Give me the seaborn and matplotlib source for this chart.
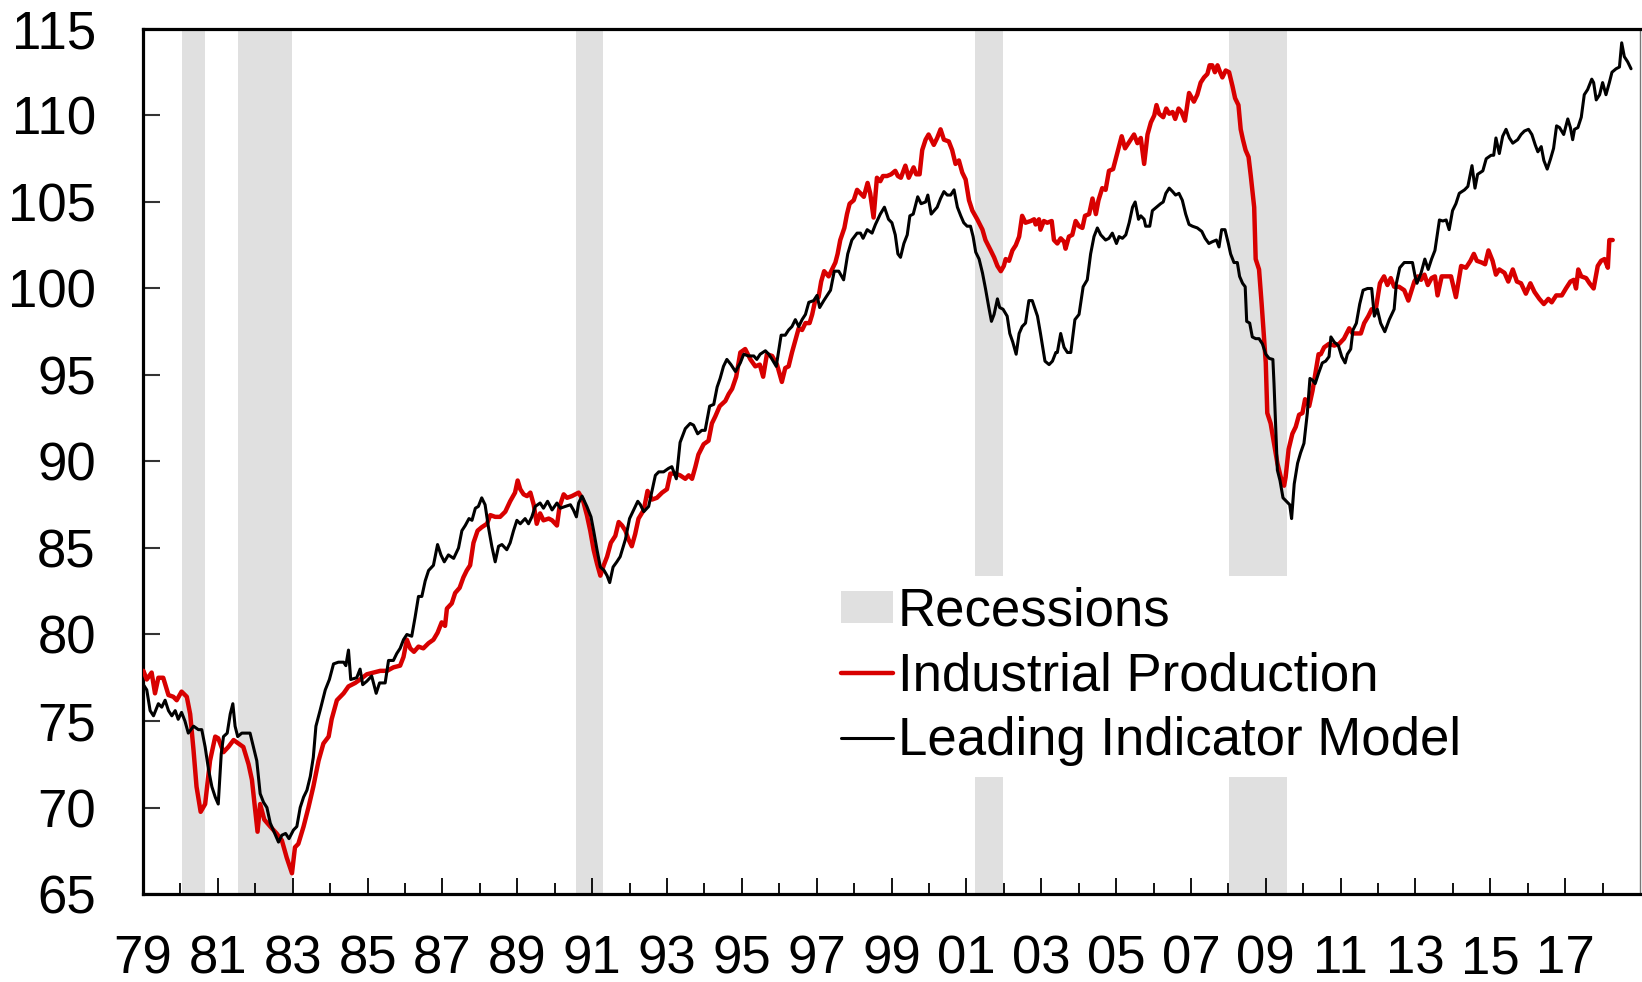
import matplotlib
matplotlib.use("Agg")
import matplotlib.pyplot as plt
from matplotlib.patches import Patch
from matplotlib.lines import Line2D
from matplotlib.ticker import FixedLocator, FixedFormatter
import seaborn as sns
import pandas as pd

# ---------------- data ----------------
ip_t = [1979.01, 1979.10, 1979.23, 1979.32, 1979.41, 1979.54, 1979.68, 1979.81, 1979.90, 1980.03,
        1980.17, 1980.26, 1980.35, 1980.43, 1980.54, 1980.66, 1980.79, 1980.93, 1981.01, 1981.15,
        1981.28, 1981.42, 1981.55, 1981.68, 1981.82, 1981.91, 1981.99, 1982.06, 1982.13, 1982.24,
        1982.40, 1982.57, 1982.71, 1982.84, 1982.98, 1983.06, 1983.15, 1983.29, 1983.42, 1983.55,
        1983.69, 1983.82, 1983.96, 1984.04, 1984.18, 1984.36, 1984.49, 1984.67, 1984.80, 1984.98,
        1985.16, 1985.34, 1985.52, 1985.69, 1985.87, 1985.96, 1986.05, 1986.14, 1986.24, 1986.36,
        1986.49, 1986.63, 1986.76, 1986.87, 1986.98, 1987.07, 1987.12, 1987.25, 1987.34, 1987.46,
        1987.56, 1987.65, 1987.74, 1987.83, 1987.94, 1988.05, 1988.19, 1988.28, 1988.41, 1988.54,
        1988.68, 1988.81, 1988.94, 1989.01, 1989.08, 1989.17, 1989.26, 1989.35, 1989.44, 1989.52,
        1989.61, 1989.70, 1989.84, 1989.93, 1990.06, 1990.13, 1990.24, 1990.33, 1990.46, 1990.55,
        1990.64, 1990.75, 1990.86, 1990.95, 1991.04, 1991.13, 1991.22, 1991.31, 1991.40, 1991.50,
        1991.62, 1991.71, 1991.80, 1991.89, 1991.97, 1992.06, 1992.15, 1992.24, 1992.38, 1992.48,
        1992.60, 1992.73, 1992.87, 1993.00, 1993.09, 1993.22, 1993.35, 1993.49, 1993.58, 1993.67,
        1993.76, 1993.84, 1993.98, 1994.11, 1994.20, 1994.29, 1994.41, 1994.56, 1994.65, 1994.74,
        1994.85, 1994.96, 1995.09, 1995.23, 1995.36, 1995.48, 1995.57, 1995.67, 1995.81, 1995.94,
        1996.07, 1996.16, 1996.25, 1996.34, 1996.43, 1996.52, 1996.61, 1996.70, 1996.81, 1996.88,
        1996.96, 1997.05, 1997.12, 1997.20, 1997.32, 1997.41, 1997.50, 1997.56, 1997.63, 1997.74,
        1997.81, 1997.88, 1997.99, 1998.08, 1998.17, 1998.26, 1998.36, 1998.43, 1998.52, 1998.61,
        1998.70, 1998.77, 1998.88, 1998.99, 1999.10, 1999.17, 1999.25, 1999.37, 1999.46, 1999.59,
        1999.66, 1999.75, 1999.82, 1999.91, 1999.99, 2000.13, 2000.22, 2000.31, 2000.40, 2000.53,
        2000.62, 2000.71, 2000.80, 2000.89, 2000.98, 2001.07, 2001.16, 2001.29, 2001.43, 2001.51,
        2001.65, 2001.74, 2001.83, 2001.92, 2002.00, 2002.05, 2002.14, 2002.23, 2002.32, 2002.41,
        2002.49, 2002.58, 2002.72, 2002.81, 2002.85, 2002.94, 2002.98, 2003.07, 2003.16, 2003.28,
        2003.34, 2003.43, 2003.52, 2003.61, 2003.65, 2003.74, 2003.83, 2003.92, 2004.01, 2004.10,
        2004.17, 2004.28, 2004.37, 2004.46, 2004.53, 2004.63, 2004.72, 2004.81, 2004.92, 2005.03,
        2005.15, 2005.24, 2005.36, 2005.48, 2005.57, 2005.66, 2005.75, 2005.84, 2005.93, 2006.02,
        2006.08, 2006.15, 2006.26, 2006.34, 2006.42, 2006.51, 2006.58, 2006.67, 2006.75, 2006.84,
        2006.95, 2007.08, 2007.17, 2007.26, 2007.35, 2007.44, 2007.50, 2007.57, 2007.64, 2007.71,
        2007.78, 2007.84, 2007.93, 2008.02, 2008.11, 2008.18, 2008.27, 2008.33, 2008.39, 2008.46,
        2008.54, 2008.60, 2008.69, 2008.73, 2008.82, 2008.89, 2008.95, 2009.00, 2009.04, 2009.13,
        2009.22, 2009.31, 2009.40, 2009.49, 2009.53, 2009.61, 2009.71, 2009.80, 2009.89, 2009.98,
        2010.05, 2010.16, 2010.25, 2010.34, 2010.41, 2010.47, 2010.56, 2010.69, 2010.83, 2010.96,
        2011.09, 2011.23, 2011.32, 2011.42, 2011.54, 2011.63, 2011.74, 2011.83, 2011.94, 2012.05,
        2012.16, 2012.25, 2012.34, 2012.43, 2012.56, 2012.70, 2012.81, 2012.97, 2013.06, 2013.15,
        2013.24, 2013.33, 2013.43, 2013.52, 2013.59, 2013.70, 2013.82, 2013.95, 2014.08, 2014.22,
        2014.35, 2014.47, 2014.56, 2014.64, 2014.77, 2014.86, 2014.95, 2015.06, 2015.15, 2015.24,
        2015.38, 2015.48, 2015.60, 2015.71, 2015.82, 2015.95, 2016.07, 2016.18, 2016.31, 2016.43,
        2016.55, 2016.64, 2016.76, 2016.91, 2017.02, 2017.14, 2017.23, 2017.29, 2017.35, 2017.43,
        2017.56, 2017.65, 2017.76, 2017.87, 2017.96, 2018.05, 2018.14, 2018.18, 2018.27]
ip_v = [77.9, 77.4, 77.8, 76.6, 77.5, 77.5, 76.5, 76.4, 76.2, 76.7,
        76.4, 75.4, 73.3, 71.2, 69.75, 70.2, 72.7, 74.1, 74.0, 73.2,
        73.5, 73.9, 73.7, 73.5, 72.5, 71.6, 70.0, 68.6, 70.2, 69.3,
        68.9, 68.5, 68.1, 67.1, 66.2, 67.7, 67.9, 68.9, 70.0, 71.2,
        72.7, 73.7, 74.1, 75.1, 76.2, 76.6, 77.0, 77.2, 77.4, 77.7,
        77.8, 77.9, 77.9, 78.1, 78.2, 78.7, 79.7, 79.2, 79.0, 79.3,
        79.2, 79.5, 79.7, 80.1, 80.7, 80.5, 81.5, 81.8, 82.4, 82.7,
        83.3, 83.7, 84.0, 85.3, 86.0, 86.2, 86.4, 86.9, 86.8, 86.8,
        87.1, 87.7, 88.2, 88.9, 88.4, 88.1, 88.0, 88.2, 87.5, 86.4,
        87.0, 86.6, 86.7, 86.6, 86.3, 87.4, 88.1, 87.9, 88.0, 88.1,
        88.2, 87.8, 86.9, 86.0, 84.9, 84.1, 83.4, 84.0, 84.5, 85.3,
        85.7, 86.5, 86.3, 86.0, 85.5, 85.1, 85.8, 86.7, 87.2, 88.3,
        87.8, 87.9, 88.2, 88.4, 89.3, 89.3, 89.2, 89.0, 89.2, 89.0,
        89.7, 90.4, 91.0, 91.2, 92.2, 92.6, 93.2, 93.5, 93.9, 94.2,
        94.9, 96.3, 96.5, 95.9, 95.5, 95.6, 94.9, 96.2, 96.1, 95.6,
        94.6, 95.4, 95.5, 96.3, 97.0, 97.7, 97.6, 98.0, 98.0, 98.5,
        99.3, 99.5, 100.4, 101.0, 100.7, 101.1, 101.5, 102.0, 102.8, 103.5,
        104.3, 104.9, 105.1, 105.7, 105.5, 105.3, 106.1, 105.5, 104.1, 106.4,
        106.2, 106.5, 106.5, 106.6, 106.8, 106.5, 106.4, 107.1, 106.4, 107.0,
        106.6, 106.6, 108.0, 108.6, 108.9, 108.3, 108.7, 109.2, 108.6, 108.5,
        108.0, 107.2, 107.4, 106.7, 106.3, 105.1, 104.5, 104.0, 103.4, 102.8,
        102.2, 101.8, 101.3, 101.0, 101.3, 101.7, 101.6, 102.2, 102.5, 103.0,
        104.2, 103.8, 103.9, 104.0, 103.7, 104.0, 103.4, 103.9, 103.8, 103.9,
        102.8, 102.6, 102.9, 102.7, 102.3, 103.0, 103.1, 103.9, 103.6, 103.5,
        104.2, 104.3, 105.2, 104.3, 105.1, 105.8, 105.7, 106.8, 106.9, 107.8,
        108.8, 108.1, 108.5, 108.9, 108.4, 108.7, 107.2, 108.9, 109.6, 110.0,
        110.6, 110.1, 109.9, 110.4, 110.1, 110.2, 109.8, 110.4, 110.2, 109.7,
        111.3, 110.8, 111.2, 111.9, 112.2, 112.4, 112.9, 112.9, 112.5, 112.9,
        112.5, 112.2, 112.6, 112.5, 111.7, 111.0, 110.6, 109.2, 108.6, 108.0,
        107.6, 106.5, 104.7, 101.7, 101.1, 99.1, 97.2, 95.7, 92.8, 92.2,
        91.05, 89.9, 89.1, 88.6, 89.1, 90.7, 91.6, 92.0, 92.7, 92.8,
        93.6, 93.2, 94.1, 95.3, 96.2, 96.2, 96.6, 96.8, 96.7, 96.8,
        97.1, 97.7, 97.4, 97.4, 97.4, 98.0, 98.4, 98.8, 98.8, 100.3,
        100.7, 100.2, 100.6, 100.1, 100.1, 99.9, 99.3, 100.4, 100.7, 100.5,
        100.8, 100.2, 100.6, 100.7, 99.6, 100.7, 100.7, 100.7, 99.5, 101.3,
        101.2, 101.6, 102.0, 101.6, 101.5, 101.4, 102.2, 101.6, 100.8, 101.1,
        100.9, 100.4, 101.1, 100.4, 100.3, 99.7, 100.3, 99.8, 99.4, 99.1,
        99.4, 99.2, 99.6, 99.6, 100.0, 100.4, 100.5, 100.0, 101.1, 100.7,
        100.6, 100.3, 100.0, 101.3, 101.6, 101.7, 101.2, 102.8, 102.8]

lim_t = [1979.01, 1979.10, 1979.19, 1979.28, 1979.41, 1979.50, 1979.59, 1979.68, 1979.77, 1979.86,
         1979.94, 1980.03, 1980.12, 1980.21, 1980.35, 1980.48, 1980.57, 1980.66, 1980.75, 1980.84,
         1980.93, 1981.01, 1981.09, 1981.15, 1981.25, 1981.33, 1981.40, 1981.46, 1981.53, 1981.64,
         1981.86, 1981.95, 1982.04, 1982.13, 1982.22, 1982.31, 1982.40, 1982.48, 1982.62, 1982.71,
         1982.81, 1982.90, 1983.02, 1983.11, 1983.20, 1983.29, 1983.38, 1983.47, 1983.55, 1983.62,
         1983.73, 1983.87, 1983.98, 1984.09, 1984.22, 1984.36, 1984.42, 1984.49, 1984.55, 1984.71,
         1984.80, 1984.87, 1984.98, 1985.11, 1985.23, 1985.32, 1985.47, 1985.56, 1985.69, 1985.78,
         1985.87, 1985.96, 1986.05, 1986.18, 1986.27, 1986.36, 1986.45, 1986.54, 1986.63, 1986.76,
         1986.87, 1986.96, 1987.05, 1987.16, 1987.30, 1987.43, 1987.52, 1987.61, 1987.71, 1987.79,
         1987.88, 1987.96, 1988.05, 1988.14, 1988.23, 1988.32, 1988.41, 1988.50, 1988.59, 1988.72,
         1988.81, 1988.90, 1988.99, 1989.08, 1989.21, 1989.30, 1989.39, 1989.48, 1989.61, 1989.70,
         1989.81, 1989.93, 1990.06, 1990.15, 1990.28, 1990.42, 1990.50, 1990.58, 1990.64, 1990.73,
         1990.86, 1990.97, 1991.04, 1991.13, 1991.22, 1991.32, 1991.40, 1991.47, 1991.56, 1991.66,
         1991.75, 1991.89, 1992.00, 1992.11, 1992.22, 1992.29, 1992.38, 1992.51, 1992.60, 1992.69,
         1992.78, 1992.91, 1993.04, 1993.13, 1993.25, 1993.35, 1993.49, 1993.62, 1993.71, 1993.82,
         1993.93, 1994.02, 1994.14, 1994.25, 1994.34, 1994.42, 1994.51, 1994.60, 1994.71, 1994.83,
         1994.96, 1995.05, 1995.18, 1995.32, 1995.40, 1995.49, 1995.63, 1995.72, 1995.81, 1995.92,
         1996.05, 1996.16, 1996.25, 1996.34, 1996.43, 1996.52, 1996.61, 1996.70, 1996.79, 1996.92,
         1997.01, 1997.08, 1997.19, 1997.28, 1997.37, 1997.47, 1997.59, 1997.72, 1997.83, 1997.94,
         1998.08, 1998.17, 1998.24, 1998.35, 1998.48, 1998.57, 1998.70, 1998.81, 1998.92, 1999.01,
         1999.10, 1999.17, 1999.24, 1999.33, 1999.42, 1999.49, 1999.58, 1999.70, 1999.79, 1999.91,
         1999.97, 2000.06, 2000.22, 2000.31, 2000.40, 2000.49, 2000.58, 2000.67, 2000.76, 2000.85,
         2000.93, 2001.02, 2001.11, 2001.18, 2001.25, 2001.34, 2001.43, 2001.51, 2001.60, 2001.67,
         2001.74, 2001.83, 2001.89, 2001.98, 2002.09, 2002.16, 2002.24, 2002.33, 2002.41, 2002.49,
         2002.58, 2002.67, 2002.76, 2002.90, 2002.98, 2003.10, 2003.21, 2003.30, 2003.39, 2003.43,
         2003.52, 2003.61, 2003.70, 2003.79, 2003.90, 2004.01, 2004.12, 2004.23, 2004.32, 2004.41,
         2004.50, 2004.59, 2004.72, 2004.81, 2004.90, 2005.01, 2005.08, 2005.17, 2005.26, 2005.35,
         2005.44, 2005.51, 2005.60, 2005.66, 2005.75, 2005.79, 2005.90, 2005.97, 2006.08, 2006.19,
         2006.26, 2006.33, 2006.42, 2006.51, 2006.59, 2006.68, 2006.77, 2006.86, 2006.95, 2007.04,
         2007.17, 2007.29, 2007.38, 2007.48, 2007.57, 2007.68, 2007.75, 2007.82, 2007.91, 2008.00,
         2008.06, 2008.15, 2008.24, 2008.30, 2008.38, 2008.45, 2008.49, 2008.57, 2008.64, 2008.73,
         2008.82, 2008.91, 2009.00, 2009.09, 2009.19, 2009.22, 2009.27, 2009.31, 2009.38, 2009.46,
         2009.55, 2009.64, 2009.69, 2009.76, 2009.85, 2009.93, 2010.02, 2010.11, 2010.18, 2010.25,
         2010.32, 2010.41, 2010.51, 2010.60, 2010.69, 2010.74, 2010.83, 2010.94, 2011.03, 2011.12,
         2011.18, 2011.27, 2011.33, 2011.42, 2011.51, 2011.60, 2011.72, 2011.83, 2011.90, 2011.98,
         2012.07, 2012.18, 2012.30, 2012.43, 2012.49, 2012.58, 2012.70, 2012.83, 2012.92, 2012.99,
         2013.04, 2013.15, 2013.25, 2013.34, 2013.43, 2013.52, 2013.64, 2013.73, 2013.82, 2013.90,
         2013.99, 2014.08, 2014.17, 2014.31, 2014.40, 2014.51, 2014.59, 2014.66, 2014.80, 2014.89,
         2015.02, 2015.09, 2015.15, 2015.24, 2015.33, 2015.42, 2015.51, 2015.60, 2015.73, 2015.82,
         2015.91, 2016.02, 2016.11, 2016.20, 2016.27, 2016.36, 2016.43, 2016.52, 2016.61, 2016.69,
         2016.77, 2016.85, 2016.96, 2017.07, 2017.14, 2017.20, 2017.25, 2017.34, 2017.43, 2017.51,
         2017.60, 2017.71, 2017.76, 2017.83, 2017.92, 2018.00, 2018.09, 2018.18, 2018.25, 2018.36,
         2018.45, 2018.51, 2018.58, 2018.67, 2018.76]
lim_v = [77.1, 76.8, 75.6, 75.3, 76.0, 75.8, 76.2, 75.6, 75.3, 75.6,
         75.1, 75.5, 75.0, 74.3, 74.7, 74.5, 74.5, 73.5, 72.2, 71.2,
         70.6, 70.2, 73.1, 74.1, 74.3, 75.4, 76.0, 74.7, 74.1, 74.3,
         74.3, 73.5, 72.7, 70.8, 70.3, 70.0, 69.1, 68.7, 68.0, 68.4,
         68.5, 68.2, 68.7, 68.9, 70.0, 70.6, 71.0, 71.8, 72.9, 74.7,
         75.6, 76.8, 77.4, 78.3, 78.4, 78.4, 78.2, 79.1, 77.4, 77.5,
         78.0, 77.1, 77.3, 77.6, 76.6, 77.2, 77.2, 78.5, 78.5, 78.9,
         79.2, 79.7, 80.0, 79.9, 81.0, 82.2, 82.2, 83.1, 83.7, 84.0,
         85.2, 84.6, 84.2, 84.6, 84.4, 85.0, 86.0, 86.3, 86.7, 86.6,
         87.3, 87.4, 87.9, 87.5, 86.2, 85.1, 84.2, 85.1, 85.2, 84.9,
         85.3, 86.0, 86.6, 86.4, 86.7, 86.4, 86.8, 87.4, 87.6, 87.3,
         87.7, 87.2, 87.6, 87.3, 87.4, 87.5, 87.2, 86.8, 87.6, 88.0,
         87.4, 86.8, 86.0, 84.9, 83.9, 83.7, 83.4, 83.0, 83.9, 84.2,
         84.5, 85.5, 86.7, 87.2, 87.7, 87.5, 87.1, 87.4, 88.3, 89.2,
         89.4, 89.4, 89.6, 89.7, 89.0, 91.1, 91.9, 92.2, 92.1, 91.6,
         91.8, 91.8, 93.2, 93.3, 94.3, 94.8, 95.5, 95.9, 95.6, 95.2,
         95.7, 96.2, 96.1, 96.1, 95.9, 96.2, 96.4, 96.2, 95.9, 95.5,
         97.3, 97.3, 97.6, 97.8, 98.2, 97.8, 98.2, 98.5, 99.2, 99.3,
         99.6, 98.9, 99.3, 99.6, 99.9, 101.0, 101.0, 100.5, 102.0, 102.8,
         103.2, 103.2, 102.9, 103.4, 103.2, 103.7, 104.3, 104.7, 104.0, 103.8,
         103.1, 102.0, 101.8, 102.6, 103.1, 104.2, 104.3, 105.3, 104.9, 105.0,
         105.4, 104.3, 104.7, 105.2, 105.6, 105.4, 105.4, 105.7, 104.7, 104.2,
         103.8, 103.6, 103.6, 103.0, 102.1, 101.7, 100.9, 100.0, 98.9, 98.1,
         98.5, 99.4, 98.9, 98.8, 98.4, 97.4, 96.9, 96.2, 97.4, 97.8,
         98.0, 99.3, 99.3, 98.4, 97.4, 95.8, 95.6, 95.8, 96.3, 96.3,
         97.4, 96.6, 96.3, 96.3, 98.2, 98.5, 100.1, 100.5, 102.0, 103.0,
         103.5, 103.1, 102.8, 102.9, 103.2, 102.6, 103.0, 102.9, 103.1, 103.8,
         104.7, 105.0, 104.0, 104.2, 104.0, 103.6, 103.6, 104.5, 104.7, 104.9,
         105.0, 105.5, 105.8, 105.6, 105.4, 105.5, 105.1, 104.3, 103.7, 103.6,
         103.5, 103.3, 102.9, 102.6, 102.7, 102.8, 102.4, 103.4, 103.4, 102.6,
         102.0, 101.5, 101.5, 100.7, 100.3, 100.1, 98.1, 98.0, 97.2, 97.1,
         97.1, 96.8, 96.2, 95.96, 95.9, 94.5, 91.8, 89.5, 88.9, 87.9,
         87.7, 87.5, 86.7, 88.7, 89.9, 90.5, 91.05, 92.8, 94.8, 94.7,
         94.5, 95.1, 95.7, 95.8, 96.06, 97.2, 96.9, 96.7, 96.06, 95.7,
         96.2, 96.5, 97.6, 97.99, 99.1, 99.9, 100.0, 100.0, 98.4, 98.8,
         97.99, 97.5, 98.2, 98.8, 100.3, 101.2, 101.5, 101.5, 101.5, 100.7,
         100.3, 100.9, 101.7, 101.1, 101.7, 102.2, 103.96, 103.9, 103.96, 103.4,
         104.5, 104.9, 105.5, 105.7, 105.9, 107.1, 105.8, 106.6, 106.8, 107.5,
         107.7, 107.7, 108.7, 107.8, 108.8, 109.2, 108.7, 108.4, 108.6, 108.9,
         109.1, 109.2, 108.9, 108.3, 107.9, 108.2, 107.4, 106.9, 107.5, 108.1,
         109.4, 109.3, 108.9, 109.8, 109.3, 108.6, 109.2, 109.3, 109.9, 111.2,
         111.5, 112.1, 111.9, 110.9, 111.2, 111.9, 111.2, 111.9, 112.5, 112.7,
         112.8, 114.2, 113.4, 113.1, 112.7]

rec_start = [1980.04, 1981.54, 1990.58, 2001.22, 2008.02]
rec_end = [1980.66, 1982.97, 1991.30, 2001.97, 2009.58]

year_ticks = list(range(1979, 2018, 2))
year_labels = [f"{y % 100:02d}" for y in year_ticks]
minor_years = list(range(1980, 2019, 2))
y_ticks = [65, 70, 75, 80, 85, 90, 95, 100, 105, 110, 115]

series_names = ["Recessions", "Industrial Production", "Leading Indicator Model"]

# ---------------- style ----------------
sns.set_theme(style="white")
plt.rcParams["font.family"] = ["Liberation Sans", "DejaVu Sans"]
plt.rcParams["text.color"] = "black"
plt.rcParams["xtick.color"] = "black"
plt.rcParams["ytick.color"] = "black"
plt.rcParams["xtick.labelcolor"] = "black"
plt.rcParams["ytick.labelcolor"] = "black"

RED = "#D80000"
BLACK = "#000000"
GREY = "#E0E0E0"

fig = plt.figure(figsize=(16.42, 9.82), dpi=100)
ax = fig.add_axes([0.0871, 0.0896, 0.9117, 0.8809])

for s, e in zip(rec_start, rec_end):
    ax.axvspan(s, e, color=GREY, lw=0, zorder=0)

ip_df = pd.DataFrame({"t": ip_t, "v": ip_v})
lim_df = pd.DataFrame({"t": lim_t, "v": lim_v})
sns.lineplot(data=ip_df, x="t", y="v", ax=ax, color=RED, lw=3.2,
             estimator=None, sort=False, zorder=3)
sns.lineplot(data=lim_df, x="t", y="v", ax=ax, color=BLACK, lw=2.2,
             estimator=None, sort=False, zorder=4)

ax.set_xlim(1979, 2019)
ax.set_ylim(65, 115)
ax.set_xlabel("")
ax.set_ylabel("")

ax.yaxis.set_major_locator(FixedLocator(y_ticks))
ax.set_yticklabels([str(v) for v in y_ticks])
ax.xaxis.set_major_locator(FixedLocator(year_ticks))
ax.xaxis.set_major_formatter(FixedFormatter(year_labels))
ax.xaxis.set_minor_locator(FixedLocator(minor_years))

ax.tick_params(axis="y", which="major", direction="in", length=12, width=1.5,
               color="#333333", labelcolor="black", labelsize=38, pad=34,
               left=True, right=False)
ax.tick_params(axis="x", which="major", direction="in", length=11.5, width=1.3,
               color="#000000", labelcolor="black", labelsize=38, pad=29,
               bottom=True, top=False)
ax.tick_params(axis="x", which="minor", direction="in", length=8, width=1.3,
               color="#000000", bottom=True, top=False)

for side in ["left", "bottom", "top"]:
    ax.spines[side].set_color("#000000")
    ax.spines[side].set_linewidth(2.3)
ax.spines["right"].set_color("#777777")
ax.spines["right"].set_linewidth(1.0)

handles = [Patch(facecolor=GREY, edgecolor="none"),
           Line2D([0], [0], color=RED, lw=3.2),
           Line2D([0], [0], color=BLACK, lw=2.2)]
leg = ax.legend(handles, series_names, loc="upper left",
                bbox_to_anchor=(0.459, 0.3676), bbox_transform=ax.transAxes,
                borderaxespad=0, fontsize=38, frameon=True, fancybox=False,
                facecolor="white", edgecolor="none", framealpha=1,
                borderpad=0.2, labelspacing=0.28, handlelength=1.0,
                handleheight=0.55, handletextpad=0.08, labelcolor="black")
leg.set_zorder(10)

fig.savefig("out.png", dpi=100)
